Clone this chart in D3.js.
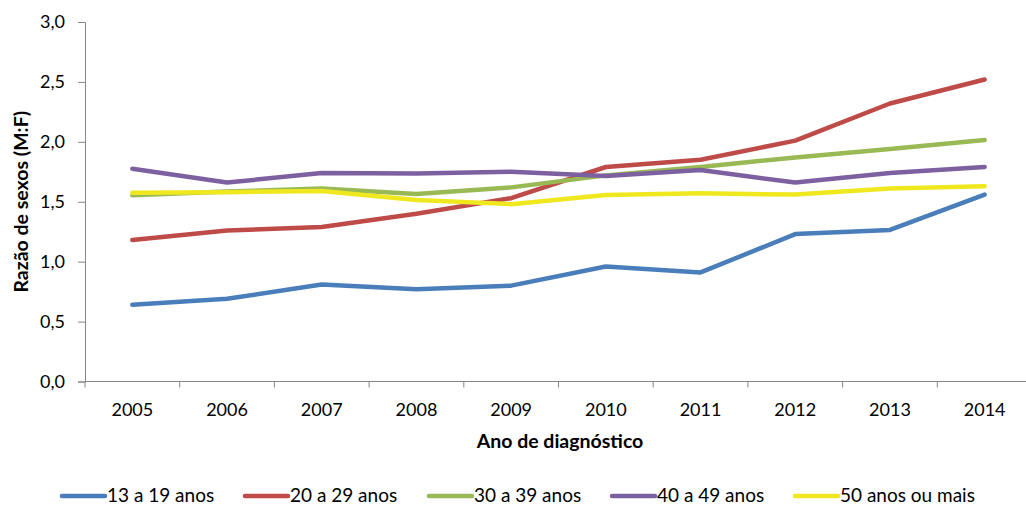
<!DOCTYPE html>
<html>
<head>
<meta charset="utf-8">
<script src="https://cdn.jsdelivr.net/npm/d3@7"></script>
<style>
  html, body { margin: 0; padding: 0; background: #fff; }
  svg { display: block; font-family: Lato, "Open Sans", sans-serif; }
</style>
</head>
<body>
<svg id="chart" width="1026" height="506"></svg>
<script>
const years = ["2005","2006","2007","2008","2009","2010","2011","2012","2013","2014"];
const seriesNames = ["13 a 19 anos","20 a 29 anos","30 a 39 anos","40 a 49 anos","50 anos ou mais"];
const colors = ["#4a7ebb","#be4b48","#98b954","#7d60a0","#f0e81f"];
const s13_19 = [0.64,0.69,0.81,0.77,0.80,0.96,0.91,1.23,1.265,1.56];
const s20_29 = [1.18,1.26,1.29,1.40,1.53,1.79,1.85,2.01,2.32,2.52];
const s30_39 = [1.555,1.585,1.61,1.565,1.62,1.72,1.79,1.87,1.94,2.015];
const s40_49 = [1.775,1.66,1.74,1.735,1.75,1.715,1.765,1.66,1.74,1.79];
const s50 = [1.575,1.58,1.59,1.515,1.48,1.557,1.57,1.56,1.61,1.63];
const yTicks = [0,0.5,1.0,1.5,2.0,2.5,3.0];
const yTitle = "Razão de sexos (M:F)";
const xTitle = "Ano de diagnóstico";

const allSeries = [s13_19, s20_29, s30_39, s40_49, s50];

const svg = d3.select("#chart");
const mLeft = 85, mRight = 1032, mTop = 22, mBottom = 381.5;
const axisColor = "#868686";

const x = d3.scaleBand().domain(years).range([mLeft, mRight]).padding(0);
const y = d3.scaleLinear().domain([0, 3]).range([mBottom, mTop]);

// Y axis
const yAxis = d3.axisLeft(y)
  .tickValues(yTicks)
  .tickFormat(d => d.toFixed(1).replace(".", ","))
  .tickSize(7)
  .tickPadding(13);
const gy = svg.append("g").attr("transform", `translate(${mLeft},0)`).call(yAxis);
gy.select(".domain").attr("stroke", axisColor);
gy.selectAll(".tick line").attr("stroke", axisColor);
gy.selectAll(".tick text").attr("fill", "#000").style("font-size", "18px").style("font-family", "Lato, sans-serif");

// X axis line and boundary ticks
const gx = svg.append("g");
gx.append("line").attr("x1", mLeft).attr("x2", mRight).attr("y1", mBottom).attr("y2", mBottom)
  .attr("stroke", axisColor).attr("stroke-width", 1);
const boundaries = years.map(d => x(d)).concat([x(years[years.length - 1]) + x.bandwidth()]);
gx.selectAll("line.tk").data(boundaries).join("line").attr("class", "tk")
  .attr("x1", d => d).attr("x2", d => d).attr("y1", mBottom).attr("y2", mBottom + 6)
  .attr("stroke", axisColor);
gx.selectAll("text.lbl").data(years).join("text").attr("class", "lbl")
  .attr("x", d => x(d) + x.bandwidth() / 2)
  .attr("y", 416)
  .attr("text-anchor", "middle")
  .style("font-size", "18px")
  .text(d => d);

// Axis titles
svg.append("text")
  .attr("x", 560).attr("y", 448)
  .attr("text-anchor", "middle")
  .style("font-size", "19.5px").style("font-weight", "bold")
  .text(xTitle);
svg.append("text")
  .attr("transform", `translate(28,${(mTop + mBottom) / 2}) rotate(-90)`)
  .attr("text-anchor", "middle")
  .style("font-size", "19.5px").style("font-weight", "bold")
  .text(yTitle);

// Lines
const line = d3.line()
  .x((d, i) => x(years[i]) + x.bandwidth() / 2)
  .y(d => y(d));
svg.append("g").selectAll("path").data(allSeries).join("path")
  .attr("d", d => line(d))
  .attr("fill", "none")
  .attr("stroke", (d, i) => colors[i])
  .attr("stroke-width", 4.5)
  .attr("stroke-linejoin", "round")
  .attr("stroke-linecap", "round");

// Legend
const legendX = [62, 245, 429, 612, 795];
const lg = svg.append("g");
seriesNames.forEach((name, i) => {
  lg.append("line").attr("x1", legendX[i]).attr("x2", legendX[i] + 43)
    .attr("y1", 496).attr("y2", 496)
    .attr("stroke", colors[i]).attr("stroke-width", 4.5).attr("stroke-linecap", "round");
  lg.append("text").attr("x", legendX[i] + 45).attr("y", 502)
    .style("font-size", "19px").text(name);
});
</script>
</body>
</html>
